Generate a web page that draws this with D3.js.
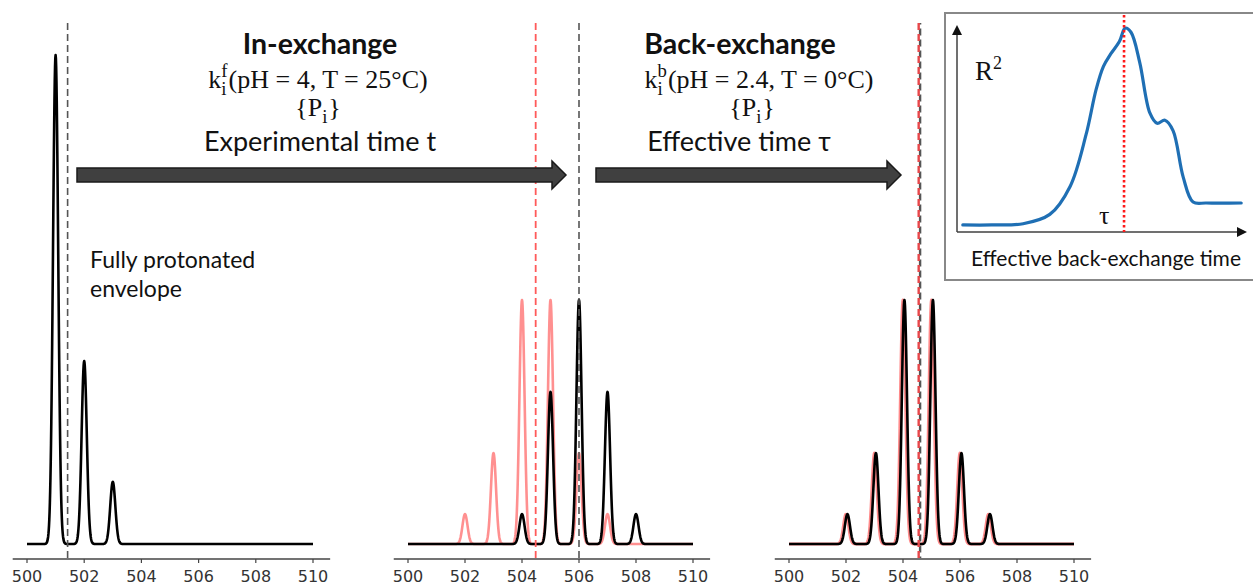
<!doctype html>
<html>
<head>
<meta charset="utf-8">
<style>
  body { margin: 0; background: white; }
  svg { display: block; }
  .tick-label { font-family: "DejaVu Sans", sans-serif; font-size: 16px; fill: #333; }
  .sans { font-family: Lato, "Open Sans", sans-serif; fill: #111; }
  .serif { font-family: "Liberation Serif", "DejaVu Serif", serif; fill: #111; }
</style>
<script src="https://cdnjs.cloudflare.com/ajax/libs/d3/7.8.5/d3.min.js"></script>
</head>
<body>
<script>
// ---- data ----
var mzTicks = [500, 502, 504, 506, 508, 510];

// fully protonated envelope (panel 1)
var fullMz = [501, 502, 503];
var fullInt = [1.0, 0.374, 0.127];

// after in-exchange (panel 2, black) and the reference envelope (red)
var inMz = [504, 505, 506, 507, 508];
var inInt = [0.061, 0.311, 0.499, 0.311, 0.061];
var refMz = [502, 503, 504, 505, 506, 507];
var refInt = [0.061, 0.186, 0.499, 0.499, 0.186, 0.061];

// after back-exchange (panel 3, black over red reference)
var backMz = [502.05, 503.05, 504.05, 505.05, 506.05, 507.05];
var backInt = [0.061, 0.186, 0.499, 0.499, 0.186, 0.061];

// centroid markers
var centroidFull = 501.42;
var centroidIn = 506.0;
var centroidRef = 504.48;
var centroidBack = 504.6;
var centroidRefBack = 504.55;

// inset: R^2 against effective back-exchange time
var r2Time = [2, 12, 22.8, 32, 39, 44.5, 48, 50.5, 53, 56, 58, 60, 63, 66.5, 69, 71.7, 74.5, 78, 81.4, 86, 98];
var r2Value = [0.034, 0.034, 0.04, 0.085, 0.22, 0.47, 0.69, 0.8, 0.86, 0.92, 0.985, 0.965, 0.82, 0.575, 0.525, 0.54, 0.49, 0.265, 0.145, 0.14, 0.14];
var tau = 57.6;

var sigma = 0.09;

// ---- drawing ----
var W = 1253, H = 584;
var svg = d3.select('body').append('svg').attr('width', W).attr('height', H);

var y = d3.scaleLinear().domain([0, 1]).range([544, 55]);
var grid = d3.range(500, 510.0001, 0.01);

function spectrum(mz, inten) {
  return grid.map(function(x) {
    var s = 0;
    for (var k = 0; k < mz.length; k++) {
      var d = x - mz[k];
      s += inten[k] * Math.exp(-d * d / (2 * sigma * sigma));
    }
    return [x, s];
  });
}

function panel(x0, x1) {
  // x(500) = x0, x(510) = x1
  var per = (x1 - x0) / 10;
  var x = d3.scaleLinear().domain([499.5, 510.6]).range([x0 - 0.5 * per, x1 + 0.6 * per]);
  var ax = svg.append('g').attr('transform', 'translate(0,559)');
  ax.append('line').attr('x1', x.range()[0]).attr('x2', x.range()[1])
    .attr('stroke', '#444').attr('stroke-width', 1.5);
  var t = ax.selectAll('.tk').data(mzTicks).enter().append('g')
    .attr('transform', d => 'translate(' + x(d) + ',0)');
  t.append('line').attr('y2', 4).attr('stroke', '#444').attr('stroke-width', 1.2);
  t.append('text').attr('class', 'tick-label').attr('y', 22.5).attr('text-anchor', 'middle').text(d => d);
  return x;
}

function drawLine(x, mz, inten, color, width) {
  var line = d3.line().x(d => x(d[0])).y(d => y(d[1]));
  svg.append('path').datum(spectrum(mz, inten))
    .attr('d', line).attr('fill', 'none')
    .attr('stroke', color).attr('stroke-width', width)
    .attr('stroke-linejoin', 'round');
}

function vDash(x, v, color, width, offset) {
  svg.append('line').attr('x1', x(v)).attr('x2', x(v))
    .attr('y1', 23).attr('y2', 558)
    .attr('stroke', color).attr('stroke-width', width)
    .attr('stroke-dasharray', '7,4').attr('stroke-dashoffset', offset || 0);
}

var x1 = panel(27, 313);
var x2 = panel(408, 693);
var x3 = panel(789, 1074);

// panel 1
drawLine(x1, fullMz, fullInt, '#000', 2.6);
vDash(x1, centroidFull, '#555', 1.6);

// panel 2
drawLine(x2, refMz, refInt, 'rgba(255,70,70,0.6)', 2.6);
drawLine(x2, inMz, inInt, '#000', 2.6);
vDash(x2, centroidRef, '#ff5a5a', 1.8);
vDash(x2, centroidIn, '#555', 1.6);

// panel 3
drawLine(x3, refMz, refInt, 'rgba(255,60,60,0.6)', 3);
drawLine(x3, backMz, backInt, '#000', 2.6);
vDash(x3, centroidBack, '#555', 2.4, 5.5);
vDash(x3, centroidRefBack, '#e8474a', 2.4);

// big arrows
function arrow(xa, xb, yc) {
  var sh = 7, hh = 14, hl = 14;
  var pts = [[xa, yc - sh], [xb - hl, yc - sh], [xb - hl, yc - hh], [xb, yc],
             [xb - hl, yc + hh], [xb - hl, yc + sh], [xa, yc + sh]];
  svg.append('polygon').attr('points', pts.map(p => p.join(',')).join(' '))
    .attr('fill', '#404040').attr('stroke', '#1a1a1a').attr('stroke-width', 1.5)
    .attr('stroke-linejoin', 'miter');
}
arrow(77, 566, 175);
arrow(596, 901, 175);

// math lines: base, stacked sub/sup, then the rest, in one text element
function measure(str, size) {
  var t = svg.append('text').attr('class', 'serif').style('font-size', size + 'px').text(str);
  var w = t.node().getComputedTextLength();
  t.remove();
  return w;
}
function mathText(cx, yb, base, sub, sup, rest, size) {
  var small = size * 0.72;
  var wb = measure(base, size);
  var wsub = Math.max(measure(sub, small), sup ? measure(sup, small) : 0) + 1;
  var wr = measure(rest, size);
  var x0 = cx - (wb + wsub + wr) / 2;
  var t = svg.append('text').attr('class', 'serif').style('font-size', size + 'px');
  t.append('tspan').attr('x', x0).attr('y', yb).text(base);
  t.append('tspan').attr('x', x0 + wb).attr('y', yb + size * 0.26).style('font-size', small + 'px').text(sub);
  if (sup) t.append('tspan').attr('x', x0 + wb).attr('y', yb - size * 0.44).style('font-size', small + 'px').text(sup);
  t.append('tspan').attr('x', x0 + wb + wsub).attr('y', yb).text(rest);
}

svg.append('text').attr('class', 'sans').attr('x', 320).attr('y', 54)
  .attr('text-anchor', 'middle').style('font-size', '28.5px').style('font-weight', 'bold').text('In-exchange');
mathText(318, 88, 'k', 'i', 'f', '(pH = 4, T = 25°C)', 26);
mathText(318, 116, '{P', 'i', null, '}', 26);
svg.append('text').attr('class', 'sans').attr('x', 320).attr('y', 151)
  .attr('text-anchor', 'middle').style('font-size', '27px').text('Experimental time t');

svg.append('text').attr('class', 'sans').attr('x', 740).attr('y', 54)
  .attr('text-anchor', 'middle').style('font-size', '28.5px').style('font-weight', 'bold').text('Back-exchange');
mathText(759, 88, 'k', 'i', 'b', '(pH = 2.4, T = 0°C)', 26);
mathText(752, 116, '{P', 'i', null, '}', 26);
svg.append('text').attr('class', 'sans').attr('x', 739).attr('y', 151)
  .attr('text-anchor', 'middle').style('font-size', '27px').text('Effective time τ');

svg.append('text').attr('class', 'sans').attr('x', 90).attr('y', 268)
  .style('font-size', '23px').text('Fully protonated');
svg.append('text').attr('class', 'sans').attr('x', 90).attr('y', 297)
  .style('font-size', '23px').text('envelope');

// ---- inset ----
var inset = svg.append('g');
inset.append('rect').attr('x', 945).attr('y', 13).attr('width', 330).attr('height', 267)
  .attr('fill', 'white').attr('stroke', '#888').attr('stroke-width', 2);

var ix = d3.scaleLinear().domain([0, 100]).range([957, 1247]);
var iy = d3.scaleLinear().domain([0, 1]).range([232, 25]);

inset.append('line').attr('x1', ix(0)).attr('x2', ix(100) - 8).attr('y1', iy(0)).attr('y2', iy(0))
  .attr('stroke', '#404040').attr('stroke-width', 1.5);
inset.append('polygon')
  .attr('points', [[ix(100), iy(0)], [ix(100) - 10, iy(0) - 5], [ix(100) - 10, iy(0) + 5]].map(p => p.join(',')).join(' '))
  .attr('fill', '#111');
inset.append('line').attr('x1', ix(0)).attr('x2', ix(0)).attr('y1', iy(0)).attr('y2', iy(1) + 8)
  .attr('stroke', '#404040').attr('stroke-width', 1.5);
inset.append('polygon')
  .attr('points', [[ix(0), iy(1)], [ix(0) - 5, iy(1) + 10], [ix(0) + 5, iy(1) + 10]].map(p => p.join(',')).join(' '))
  .attr('fill', '#111');

var r2 = r2Time.map((t, i) => [t, r2Value[i]]);
inset.append('path').datum(r2)
  .attr('d', d3.line().x(d => ix(d[0])).y(d => iy(d[1])).curve(d3.curveCatmullRom.alpha(0.5)))
  .attr('fill', 'none').attr('stroke', '#1f6fb4').attr('stroke-width', 3.2)
  .attr('stroke-linecap', 'round');

inset.append('line').attr('x1', ix(tau)).attr('x2', ix(tau)).attr('y1', 15).attr('y2', iy(0))
  .attr('stroke', '#ff1a1a').attr('stroke-width', 2.6).attr('stroke-dasharray', '2.5,2.5');

var r = inset.append('text').attr('class', 'serif').attr('x', 975).attr('y', 80).style('font-size', '27px');
r.append('tspan').text('R');
r.append('tspan').attr('dy', -11).style('font-size', '18px').text('2');
inset.append('text').attr('class', 'serif').attr('x', 1099).attr('y', 224).style('font-size', '26px').text('τ');
inset.append('text').attr('class', 'sans').attr('x', 1106).attr('y', 266)
  .attr('text-anchor', 'middle').style('font-size', '21px').text('Effective back-exchange time');
</script>
</body>
</html>
